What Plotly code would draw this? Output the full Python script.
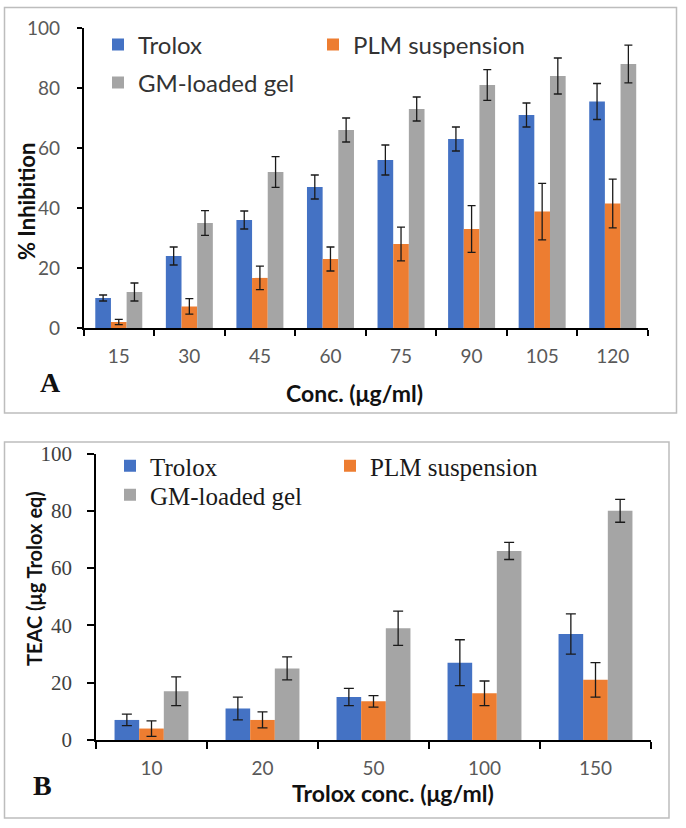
import plotly.graph_objects as go

# ---------------- data ----------------
conc_a = ["15", "30", "45", "60", "75", "90", "105", "120"]
trolox_a = [10, 24, 36, 47, 56, 63, 71, 75.5]
trolox_a_err = [1, 3, 3, 4, 5, 4, 4, 6]
plm_a = [2, 7.2, 16.7, 23, 28, 33, 38.8, 41.5]
plm_a_err = [0.9, 2.6, 3.9, 4, 5.6, 7.8, 9.4, 8.1]
gm_a = [12, 35, 52, 66, 73, 81, 84, 88]
gm_a_err = [3, 4.1, 5.1, 4, 4, 5.1, 6, 6.3]

conc_b = ["10", "20", "50", "100", "150"]
trolox_b = [7, 11, 15, 27, 37]
trolox_b_err = [2, 4, 3, 8, 7]
plm_b = [4, 7, 13.5, 16.3, 21]
plm_b_err = [2.7, 2.8, 2, 4.3, 6]
gm_b = [17, 25, 39, 66, 80]
gm_b_err = [5, 4, 6, 3, 4]

y_ticks = [0, 20, 40, 60, 80, 100]

BLUE = "#4472C4"
ORANGE = "#ED7D31"
GRAY = "#A5A5A5"
ERR = "#1a1a1a"

W, H = 686, 828


def px_x(x):
    return x / W


def px_y(y):
    return 1 - y / H


fig = go.Figure()

SANS = "Lato"
SERIF = "Liberation Serif"


def add_bar(x, y, err, name, color, xa, ya, legend, errw):
    fig.add_trace(go.Bar(
        x=x, y=y, name=name, marker=dict(color=color, line=dict(width=0)),
        error_y=dict(type="data", array=err, visible=True, color=ERR,
                     thickness=1.3, width=errw),
        xaxis=xa, yaxis=ya, legend=legend, hoverinfo="skip",
    ))


# panel A
add_bar(conc_a, trolox_a, trolox_a_err, "Trolox", BLUE, "x", "y", "legend", 4)
add_bar(conc_a, plm_a, plm_a_err, "PLM suspension", ORANGE, "x", "y", "legend", 4)
add_bar(conc_a, gm_a, gm_a_err, "GM-loaded gel", GRAY, "x", "y", "legend2", 4)
# panel B
add_bar(conc_b, trolox_b, trolox_b_err, "Trolox", BLUE, "x2", "y2", "legend3", 5)
add_bar(conc_b, plm_b, plm_b_err, "PLM suspension", ORANGE, "x2", "y2", "legend3", 5)
add_bar(conc_b, gm_b, gm_b_err, "GM-loaded gel", GRAY, "x2", "y2", "legend4", 5)

axis_common = dict(showline=True, linecolor="black", linewidth=1.5,
                   showgrid=False, zeroline=False, ticks="outside",
                   tickcolor="black", tickwidth=1.5, fixedrange=True,
                   automargin=False)

fig.update_layout(
    width=W, height=H,
    margin=dict(l=0, r=0, t=0, b=0, autoexpand=False),
    paper_bgcolor="white", plot_bgcolor="white",
    barmode="group", bargap=0.334, bargroupgap=0,
    showlegend=True, hovermode=False,
    xaxis=dict(domain=[px_x(83.5), px_x(648)], anchor="y", type="category",
               tickson="boundaries", ticklen=6, ticklabelstandoff=10,
               tickfont=dict(family=SANS, size=19, color="#595959"),
               **axis_common),
    yaxis=dict(domain=[px_y(328), px_y(28)], anchor="x", range=[0, 100],
               tickvals=y_ticks, ticklen=5, ticklabelstandoff=13,
               tickfont=dict(family=SANS, size=19, color="#595959"),
               **axis_common),
    xaxis2=dict(domain=[px_x(96), px_x(651)], anchor="y2", type="category",
                tickson="boundaries", ticklen=7, ticklabelstandoff=10,
                tickfont=dict(family=SANS, size=19, color="#595959"),
                **axis_common),
    yaxis2=dict(domain=[px_y(740), px_y(453.5)], anchor="x2", range=[0, 100],
                tickvals=y_ticks, ticklen=7, ticklabelstandoff=11,
                tickfont=dict(family=SERIF, size=21, color="#404040"),
                **axis_common),
    legend=dict(orientation="h", x=px_x(98), xanchor="left", y=px_y(45), yanchor="middle",
                entrywidth=170, entrywidthmode="pixels", bgcolor="rgba(0,0,0,0)",
                font=dict(family=SANS, size=24, color="#333333"), traceorder="normal"),
    legend2=dict(orientation="h", x=px_x(98), xanchor="left", y=px_y(83), yanchor="middle",
                 bgcolor="rgba(0,0,0,0)",
                 font=dict(family=SANS, size=24, color="#333333")),
    legend3=dict(orientation="h", x=px_x(110), xanchor="left", y=px_y(466), yanchor="middle",
                 entrywidth=175, entrywidthmode="pixels", bgcolor="rgba(0,0,0,0)",
                 font=dict(family=SERIF, size=25, color="#1a1a1a"), traceorder="normal"),
    legend4=dict(orientation="h", x=px_x(110), xanchor="left", y=px_y(495), yanchor="middle",
                 bgcolor="rgba(0,0,0,0)",
                 font=dict(family=SERIF, size=25, color="#1a1a1a")),
)

# panel frames
fig.add_shape(type="rect", xref="paper", yref="paper",
              x0=px_x(4.5), x1=px_x(676.5), y0=px_y(413), y1=px_y(7.5),
              line=dict(color="#BDBDBD", width=1.5), layer="below")
fig.add_shape(type="rect", xref="paper", yref="paper",
              x0=px_x(4.5), x1=px_x(669), y0=px_y(818), y1=px_y(442),
              line=dict(color="#BDBDBD", width=1.5), layer="below")

annots = [
    dict(text="<b>Conc. (μg/ml)</b>", x=px_x(354), y=px_y(393),
         font=dict(family=SANS, size=23, color="#111111"), textangle=0),
    dict(text="<b>% Inhibition</b>", x=px_x(27), y=px_y(202),
         font=dict(family=SANS, size=22, color="#111111"), textangle=-90),
    dict(text="<b>Trolox conc. (μg/ml)</b>", x=px_x(393), y=px_y(793),
         font=dict(family=SANS, size=23, color="#111111"), textangle=0),
    dict(text="<b>TEAC (μg Trolox eq)</b>", x=px_x(34), y=px_y(579),
         font=dict(family=SANS, size=20, color="#111111"), textangle=-90),
    dict(text="<b>A</b>", x=px_x(50), y=px_y(382),
         font=dict(family=SERIF, size=28, color="#111111"), textangle=0),
    dict(text="<b>B</b>", x=px_x(42), y=px_y(785),
         font=dict(family=SERIF, size=28, color="#111111"), textangle=0),
]
for a in annots:
    fig.add_annotation(xref="paper", yref="paper", xanchor="center", yanchor="middle",
                       showarrow=False, **a)

fig.write_html(
    "out.html",
    config={"displayModeBar": False, "responsive": False},
    post_script="document.body.style.margin='0';document.body.style.overflow='hidden';",
)
